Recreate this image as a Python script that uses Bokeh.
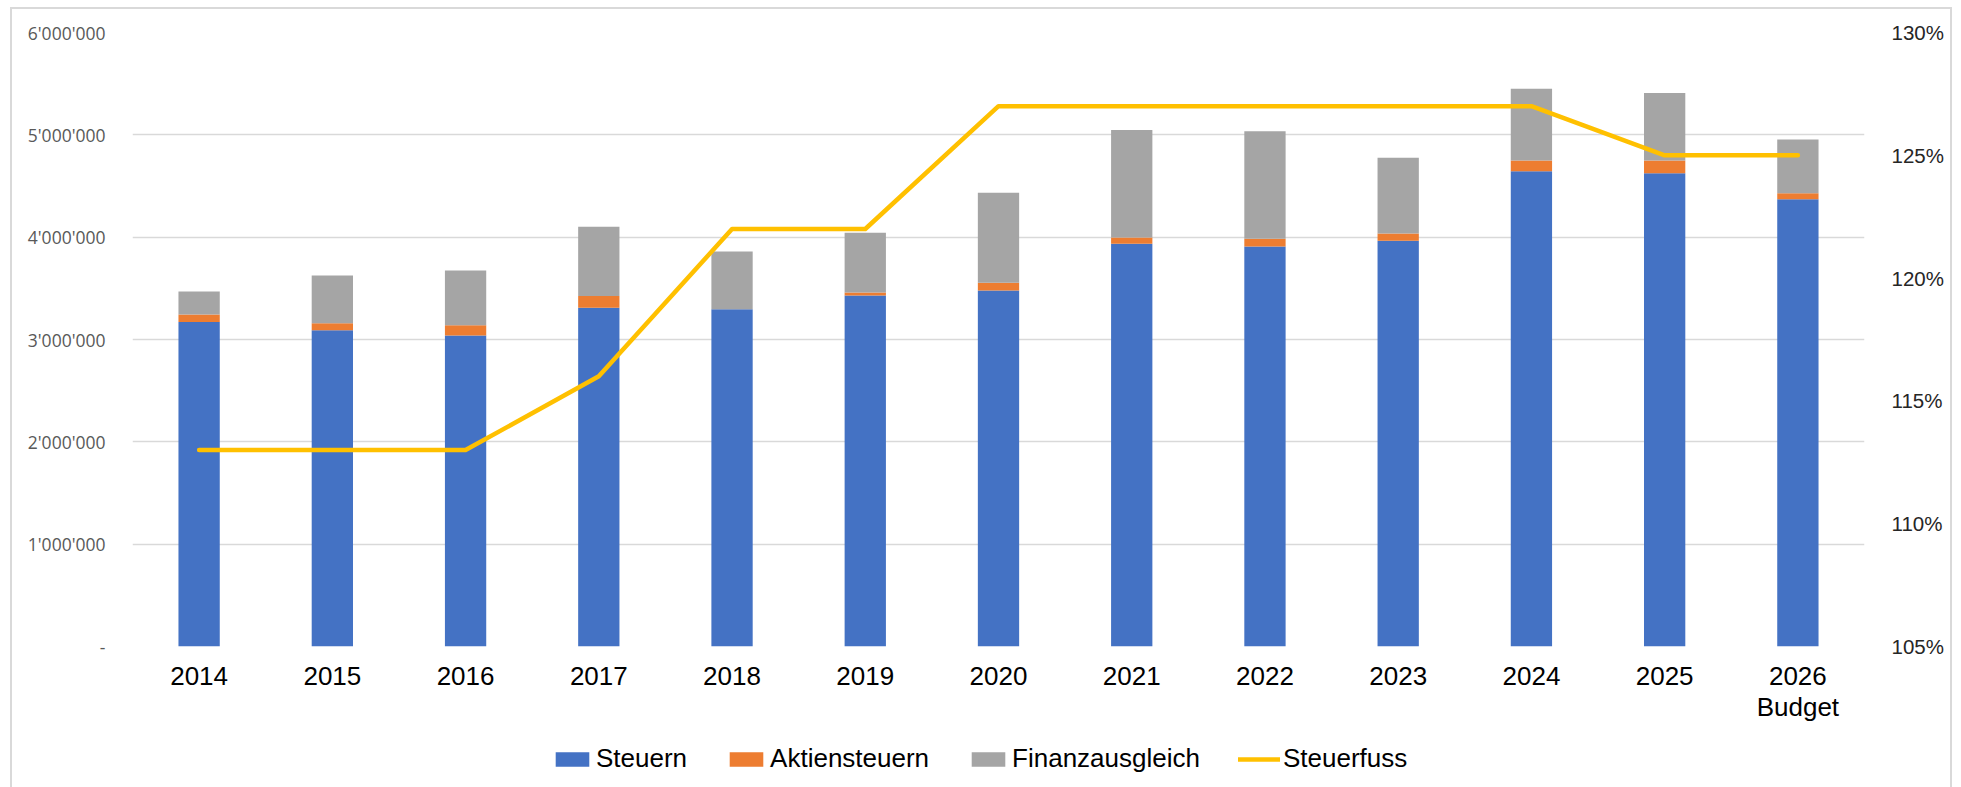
from bokeh.plotting import figure
from bokeh.layouts import column
from bokeh.models import (Range1d, LinearAxis, FixedTicker, CustomJSTickFormatter,
                          ColumnDataSource)
from bokeh.embed import file_html
from bokeh.resources import INLINE

# ---- data ----
years = ["2014", "2015", "2016", "2017", "2018", "2019", "2020", "2021",
         "2022", "2023", "2024", "2025", "2026\nBudget"]
steuern = [3170000, 3090000, 3040000, 3310000, 3295000, 3430000, 3480000,
           3935000, 3910000, 3965000, 4645000, 4625000, 4370000]
aktiensteuern = [75000, 70000, 100000, 114000, 0, 30000, 75000,
                 62000, 75000, 70000, 105000, 125000, 60000]
finanzausgleich = [224000, 465000, 535000, 677000, 566000, 583000, 880000,
                   1050000, 1050000, 740000, 700000, 660000, 525000]
steuerfuss = [113, 113, 113, 116, 122, 122, 127, 127, 127, 127, 127, 125, 125]

left_ticks = [0, 1000000, 2000000, 3000000, 4000000, 5000000, 6000000]
right_ticks = [105, 110, 115, 120, 125, 130]

series = ["Steuern", "Aktiensteuern", "Finanzausgleich"]
line_name = "Steuerfuss"
colors = ["#4472C4", "#ED7D31", "#A5A5A5"]
line_color = "#FFC000"

src = ColumnDataSource(dict(years=years, Steuern=steuern,
                            Aktiensteuern=aktiensteuern,
                            Finanzausgleich=finanzausgleich,
                            fuss=steuerfuss))

p = figure(x_range=years, y_range=Range1d(0, 6000000),
           frame_width=1732, frame_height=614,
           output_backend="svg", toolbar_location=None,
           min_border_left=120, min_border_right=86, min_border_top=23,
           min_border_bottom=87)
p.outline_line_color = None
p.background_fill_color = "white"
p.border_fill_color = "white"

p.extra_y_ranges = {"pct": Range1d(105, 130)}

p.vbar_stack(series, x="years", width=0.31, color=colors, source=src,
             line_color=None)
p.line(x="years", y="fuss", source=src, y_range_name="pct", color=line_color,
       line_width=4.5, line_cap="round", line_join="round")

# left axis
ya = p.yaxis[0]
ya.ticker = FixedTicker(ticks=left_ticks)
ya.formatter = CustomJSTickFormatter(code="""
if (tick == 0) { return "-"; }
return Math.round(tick).toString().replace(/\\B(?=(\\d{3})+(?!\\d))/g, "'");
""")
ya.axis_line_color = None
ya.major_tick_line_color = None
ya.minor_tick_line_color = None
ya.major_label_standoff = 21
ya.major_label_text_font = "Open Sans"
ya.major_label_text_font_size = "17.5px"
ya.major_label_text_color = "#595959"

# right axis
ra = LinearAxis(y_range_name="pct", ticker=FixedTicker(ticks=right_ticks),
                formatter=CustomJSTickFormatter(code="return tick + '%';"))
ra.axis_line_color = None
ra.major_tick_line_color = None
ra.minor_tick_line_color = None
ra.major_label_standoff = 21
ra.major_label_text_font = "Liberation Sans"
ra.major_label_text_font_size = "20.5px"
ra.major_label_text_color = "#262626"
p.add_layout(ra, "right")

# x axis
xa = p.xaxis[0]
xa.axis_line_color = None
xa.major_tick_line_color = None
xa.minor_tick_line_color = None
xa.major_label_standoff = 8
xa.major_label_text_font = "Liberation Sans"
xa.major_label_text_font_size = "26px"
xa.major_label_text_color = "#000000"
xa.major_label_text_line_height = 1.05

p.xgrid.grid_line_color = None
p.ygrid.ticker = FixedTicker(ticks=left_ticks)
p.ygrid.grid_line_color = "#D9D9D9"
p.ygrid.grid_line_width = 1.5

# ---- legend strip (separate figure below the chart; same renderers, data kept out of view) ----
q = figure(x_range=p.x_range, y_range=Range1d(10000000, 11000000),
           frame_width=1732, frame_height=54, output_backend="svg",
           toolbar_location=None, x_axis_type=None, y_axis_type=None,
           min_border_left=120, min_border_right=86, min_border_top=0,
           min_border_bottom=0)
q.extra_y_ranges = {"pct": Range1d(200, 201)}
q.outline_line_color = None
q.grid.visible = False
q.border_fill_color = "white"
q.background_fill_color = "white"
q.vbar_stack(series, x="years", width=0.31, color=colors, source=src,
             line_color=None, legend_label=series)
q.line(x="years", y="fuss", source=src, y_range_name="pct", color=line_color,
       line_width=4.5, line_cap="round", legend_label=line_name)

lg = q.legend[0]
lg.orientation = "horizontal"
lg.location = (419, 13)
lg.border_line_color = None
lg.background_fill_alpha = 0
lg.padding = 0
lg.margin = 0
lg.spacing = 38
lg.glyph_width = 42
lg.glyph_height = 18
lg.label_height = 18
lg.label_standoff = 3
lg.label_text_font = "Liberation Sans"
lg.label_text_font_size = "26px"
lg.label_text_color = "#000000"

layout = column(p, q, spacing=0,
                styles={"border": "2px solid #D9D9D9",
                        "margin": "7px 0px 0px 10px"})

open("out.html", "w").write(file_html(layout, INLINE))
